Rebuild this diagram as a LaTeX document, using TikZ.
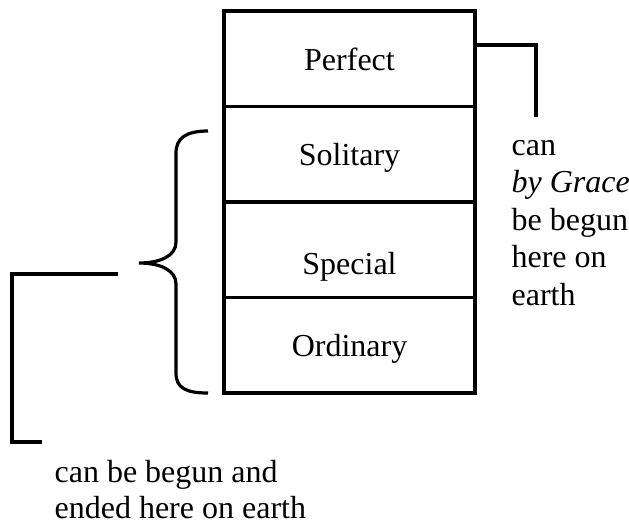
\documentclass[tikz,border=0pt]{standalone}
\usepackage{fontspec}
\setmainfont{Liberation Serif}
\usetikzlibrary{positioning}

\begin{document}
\begin{tikzpicture}[x=0.375pt,y=-0.375pt,line width=1.2pt,font=\fontsize{12}{14.06}\selectfont,
  tier/.style={draw,rectangle,minimum width=94.1pt,minimum height=35.8pt,outer sep=0pt,inner sep=0pt,text height=8.6pt,text depth=0pt},
  note/.style={anchor=base west,inner sep=0pt,align=left}]
\useasboundingbox (0,0) rectangle (629,521);

\node[tier] (perfect) at (349.5,58.75) {Perfect};
\node[tier] (solitary) [below=0pt of perfect] {Solitary};
\node[tier, text height=18.8pt] (special) [below=0pt of solitary] {Special};
\node[tier] (ordinary) [below=0pt of special] {Ordinary};

% base is the last line here
\node[note] (grace) at (510,305) {can\\\textit{by Grace}\\be begun\\here on\\earth};
\node[note, font=\fontsize{12}{13.5}\selectfont] (earth) at (53,518) {can be begun and\\ended here on earth};

% brace round the lower three
\coordinate (btop) at (208,131);
\coordinate (btip) at (139,263);
\coordinate (bbot) at (208,393);
\draw (btop) .. controls (186,131) and (176,138) .. (176,153) -- (176,242)
      .. controls (176,256) and (160,263) .. (btip)
      .. controls (160,263) and (176,270) .. (176,284) -- (176,373)
      .. controls (176,388) and (186,393) .. (bbot);

% brackets
\coordinate (rend) at (536,117);
\draw (perfect.east |- 0,45) -| (rend);

\coordinate (lin) at (118,274);
\coordinate (lout) at (42,442);
\draw (lin) -- ++(-106,0) |- (lout);

\end{tikzpicture}
\end{document}
